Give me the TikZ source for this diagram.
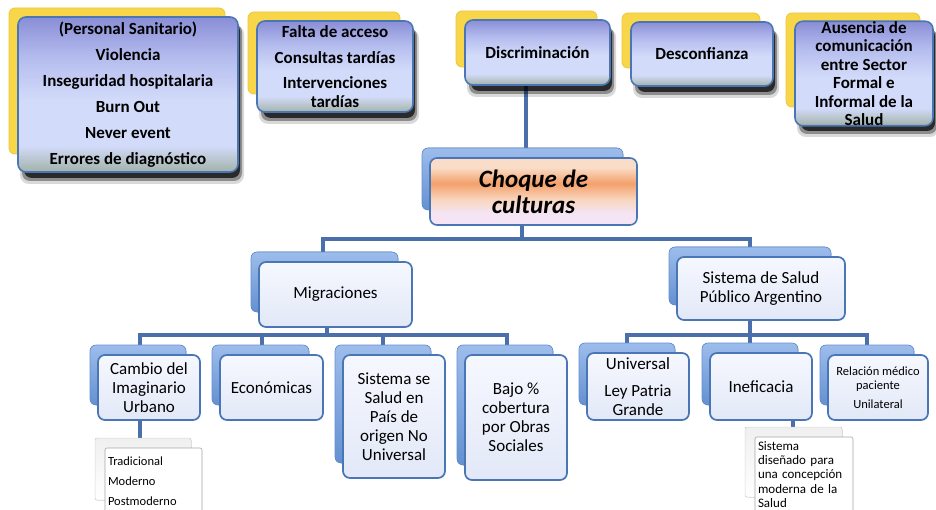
\documentclass[tikz,border=0pt]{standalone}
\usepackage{fontspec}
\setmainfont{Carlito}
\usetikzlibrary{calc}
\definecolor{tgT}{HTML}{8A8ED6}
\definecolor{tgL}{HTML}{D3DBFA}
\definecolor{tgM}{HTML}{B4BCEE}
\definecolor{tgB}{HTML}{A2B2A8}
\definecolor{ybk}{HTML}{F7D64A}
\definecolor{ybkd}{HTML}{EEC63A}
\definecolor{bord}{HTML}{4A76B6}
\definecolor{connc}{HTML}{4A6FAB}
\definecolor{oT}{HTML}{FADDC8}
\definecolor{oM}{HTML}{F3A06B}
\definecolor{oL}{HTML}{F9D6BE}
\definecolor{oB}{HTML}{F4E4F4}
\definecolor{lT}{HTML}{F6F8FF}
\definecolor{lB}{HTML}{E2E8F7}
\definecolor{bbT}{HTML}{9DBDEB}
\definecolor{bbB}{HTML}{6490D2}
\pgfdeclareverticalshading{topgrad}{100bp}{color(0bp)=(tgB); color(25bp)=(tgB); color(33.5bp)=(tgL); color(48bp)=(tgL); color(62bp)=(tgM); color(75bp)=(tgT); color(100bp)=(tgT)}
\pgfdeclareverticalshading{orangegrad}{100bp}{color(0bp)=(oB); color(25bp)=(oB); color(34bp)=(oB); color(44bp)=(oL); color(56bp)=(oM); color(68bp)=(oT); color(75bp)=(oT); color(100bp)=(oT)}
\pgfdeclareverticalshading{lowgrad}{100bp}{color(0bp)=(lB); color(25bp)=(lB); color(75bp)=(lT); color(100bp)=(lT)}
\pgfdeclarelayer{bg}
\pgfsetlayers{bg,main}
\tikzset{
  conn/.style={draw=connc, line width=3.4pt},
  topnode/.style={draw=bord, line width=1.6pt, rounded corners=8pt, shading=topgrad, inner sep=0pt, align=center, text=black, font=\bfseries\fontsize{17}{18.5}\selectfont},
  orangenode/.style={draw=bord, line width=1.6pt, rounded corners=7pt, shading=orangegrad, inner sep=0pt, align=center, text=black, font=\bfseries\itshape\fontsize{25}{26}\selectfont},
  lownode/.style={draw=bord, line width=1.7pt, rounded corners=7pt, shading=lowgrad, inner sep=0pt, align=center, text=black, font=\fontsize{17}{19}\selectfont},
  subnode/.style={draw=black!35, line width=0.6pt, rounded corners=2pt, fill=white, inner sep=0pt, align=left, text=black, font=\fontsize{13}{14.3}\selectfont},
  yback/.style={fill=ybk, draw=ybkd, line width=0.8pt, rounded corners=6pt},
  bback/.style={top color=bbT, bottom color=bbB, draw=bbB, line width=0.6pt, rounded corners=6pt},
  gback/.style={top color=black!6, bottom color=white, draw=black!15, line width=0.5pt, rounded corners=2pt},
}
% top box: name, x1,y1,x2,y2, text
\newcommand\mytopbox[6]{%
  \fill[yback] ({#2-9},{#3-9}) rectangle ({#4-13},{#5-18});
  \fill[black,opacity=0.15,rounded corners=9pt] ({#2+2},{#3+8}) rectangle ({#4+6},{#5+12});
  \fill[black,opacity=0.35,rounded corners=8pt] ({#2+4},{#3+7}) rectangle ({#4+4},{#5+9});
  \fill[black,opacity=0.7,rounded corners=8pt] ({#2+6},{#3+6}) rectangle ({#4+2},{#5+6});
  \node[topnode, minimum width={#4-#2}, minimum height={#5-#3}] (#1) at ({(#2+#4)/2},{(#3+#5)/2}) {#6};
}
\newcommand\mylowbox[7]{% style, name, x1,y1,x2,y2, text
  \fill[bback] ({#3-8},{#4-10}) rectangle ({#5-14},{#6-15});
  \node[#1, minimum width={#5-#3}, minimum height={#6-#4}] (#2) at ({(#3+#5)/2},{(#4+#6)/2}) {#7};
}
\newcommand\mysubbox[6]{% name, x1,y1,x2,y2, text
  \fill[gback] ({#2-10},{#3-10}) rectangle ({#4-11},{#5-15});
  \node[subnode, minimum width={#4-#2}, minimum height={#5-#3}, text width={#4-#2-6}] (#1) at ({(#2+#4)/2},{(#3+#5)/2}) {#6};
}
\begin{document}
\begin{tikzpicture}[x=1pt,y=-1pt]
\useasboundingbox (0,0) rectangle (936,510);
\clip (0,0) rectangle (936,510);
\begin{pgfonlayer}{bg}
\fill[white] (0,0) rectangle (936,510);
\end{pgfonlayer}

% top row
\mytopbox{pers}{18}{17}{238}{172}{(Personal Sanitario)\\[7.5pt]Violencia\\[7.5pt]Inseguridad hospitalaria\\[7.5pt]Burn Out\\[7.5pt]Never event\\[7.5pt]Errores de diagnóstico}
\mytopbox{falta}{257}{21}{413}{112}{Falta de acceso\\[7pt]Consultas tardías\\[7pt]Intervenciones\\tardías}
\mytopbox{disc}{465}{20}{610}{85}{Discriminación}
\mytopbox{desc}{631}{22}{773}{86}{Desconfianza}
\mytopbox{aus}{795}{22}{933}{125}{Ausencia de\\comunicación\\entre Sector\\Formal e\\Informal de la\\Salud}

% center
\mylowbox{orangenode}{choque}{430}{158}{637}{225}{Choque de\\culturas}

% second level
\mylowbox{lownode}{mig}{259}{262}{412}{327}{Migraciones}
\mylowbox{lownode}{sis}{677}{257}{845}{320}{Sistema de Salud\\Público Argentino}

% third level left
\mylowbox{lownode}{camb}{98}{355}{200}{420}{Cambio del\\Imaginario\\Urbano}
\mylowbox{lownode}{econ}{220}{355}{323}{420}{Económicas}
\mylowbox{lownode}{sisse}{343}{355}{445}{478}{Sistema se\\Salud en\\País de\\origen No\\Universal}
\mylowbox{lownode}{bajo}{465}{355}{567}{480}{Bajo \%\\cobertura\\por Obras\\Sociales}

% third level right
\mylowbox{lownode}{univ}{587}{353}{689}{420}{Universal\\[8pt]Ley Patria\\Grande}
\mylowbox{lownode}{inef}{710}{353}{812}{420}{Ineficacia}
\mylowbox{lownode, font=\fontsize{12.5}{14}\selectfont}{rel}{828}{355}{928}{420}{Relación médico\\paciente\\[5pt]Unilateral}

% sub boxes
\mysubbox{sub1}{105}{448}{202}{515}{\fontsize{12.5}{14}\selectfont Tradicional\\[6pt]Moderno\\[6pt]Postmoderno}
\mysubbox{sub2}{755}{437}{853}{512}{Sistema\\diseñado para\\una concepción\\moderna de la\\Salud}

% connectors
\coordinate (j1) at (522,239);
\coordinate (j2) at (327,335);
\coordinate (j3) at (750,335);
\begin{pgfonlayer}{bg}
\draw[conn] ([xshift=-11.5pt]disc.south) -- ([xshift=-11.5pt]disc.south |- choque.north);
\draw[conn] (j1 |- choque.south) -- (j1);
\draw[conn] ([xshift=-12.5pt]mig.north) |- (j1) -| ([xshift=-11pt]sis.north);
\draw[conn] (j2 |- mig.south) -- (j2);
\draw[conn] ([xshift=-9pt]camb.north) |- ([xshift=-9pt]bajo.north |- j2) -- ([xshift=-9pt]bajo.north);
\draw[conn] ([xshift=-9.5pt]econ.north) -- ([xshift=-9.5pt]econ.north |- j2);
\draw[conn] ([xshift=-11pt]sisse.north) -- ([xshift=-11pt]sisse.north |- j2);
\draw[conn] (j3 |- sis.south) -- (j3);
\draw[conn] ([xshift=-11pt]univ.north) |- ([xshift=-11pt]rel.north |- j3) -- ([xshift=-11pt]rel.north);
\draw[conn] ([xshift=-11pt]inef.north) -- ([xshift=-11pt]inef.north |- j3);
\draw[conn] ([xshift=-9pt]camb.south) -- ([xshift=-9pt]camb.south |- sub1.north);
\draw[conn] ([xshift=32pt]inef.south) -- ([xshift=32pt]inef.south |- sub2.north);
\end{pgfonlayer}
\end{tikzpicture}
\end{document}
